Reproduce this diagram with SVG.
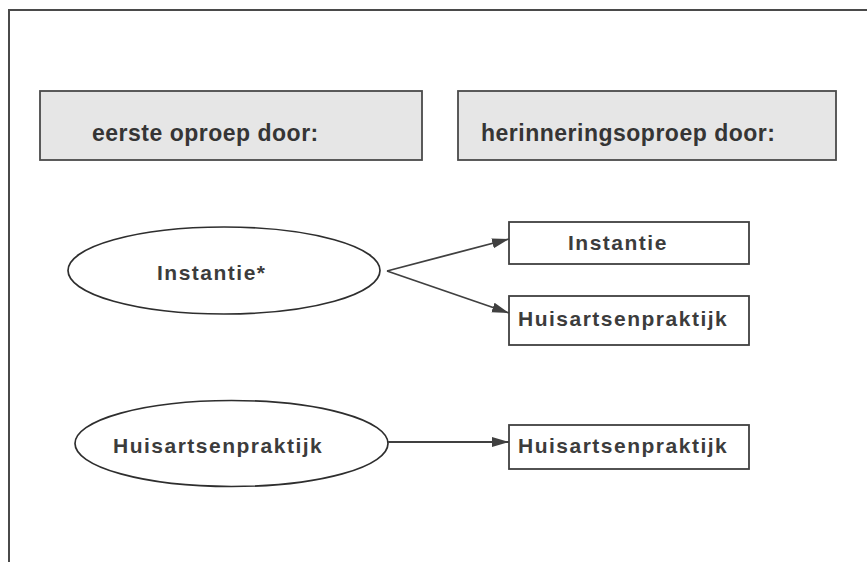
<svg xmlns="http://www.w3.org/2000/svg" width="867" height="562" viewBox="0 0 867 562">
<style>
.frame{fill:none;stroke:#4a4a4a;stroke-width:2}
.head{fill:#e6e6e6;stroke:#4a4a4a;stroke-width:1.8}
.box{fill:#ffffff;stroke:#404040;stroke-width:1.8}
.ell{fill:#ffffff;stroke:#2e2e2e;stroke-width:1.7}
.ht{font-family:"Liberation Sans",Arial,sans-serif;font-weight:bold;font-size:23px;letter-spacing:0.5px;fill:#353535}
.nt{font-family:"Liberation Sans",Arial,sans-serif;font-weight:bold;font-size:21px;letter-spacing:1.5px;fill:#3c3c3c}
.conn{fill:none;stroke:#404040;stroke-width:1.8}
</style>
<defs>
<marker id="arr" markerUnits="userSpaceOnUse" markerWidth="20" markerHeight="12" refX="17" refY="5" orient="auto">
<path d="M0,0 L17,5 L0,10 Z" fill="#404040"/>
</marker>
</defs>
<rect width="867" height="562" fill="#ffffff"/>
<path class="frame" d="M9,562 L9,10 L867,10"/>
<g id="head1">
<rect class="head" x="40" y="91" width="382" height="69"/>
<text class="ht" x="92" y="141">eerste oproep door:</text>
</g>
<g id="head2">
<rect class="head" x="458" y="91" width="378" height="69"/>
<text class="ht" x="481" y="141">herinneringsoproep door:</text>
</g>
<g id="ell1">
<ellipse class="ell" cx="224" cy="270.5" rx="156" ry="43.5"/>
<text class="nt" x="157" y="280">Instantie*</text>
</g>
<g id="ell2">
<ellipse class="ell" cx="231.5" cy="443.5" rx="156.5" ry="43"/>
<text class="nt" x="113" y="453">Huisartsenpraktijk</text>
</g>
<g id="box1">
<rect class="box" x="509" y="222" width="240" height="42"/>
<text class="nt" x="568" y="250">Instantie</text>
</g>
<g id="box2">
<rect class="box" x="509" y="296" width="240" height="49"/>
<text class="nt" x="518" y="326">Huisartsenpraktijk</text>
</g>
<g id="box3">
<rect class="box" x="509" y="425" width="240" height="44"/>
<text class="nt" x="518" y="453">Huisartsenpraktijk</text>
</g>
<g id="connectors">
<line class="conn" x1="387" y1="271" x2="509" y2="239" marker-end="url(#arr)"/>
<line class="conn" x1="387" y1="271" x2="509" y2="313" marker-end="url(#arr)"/>
<line class="conn" x1="388" y1="442" x2="509" y2="442" marker-end="url(#arr)"/>
</g>
</svg>
